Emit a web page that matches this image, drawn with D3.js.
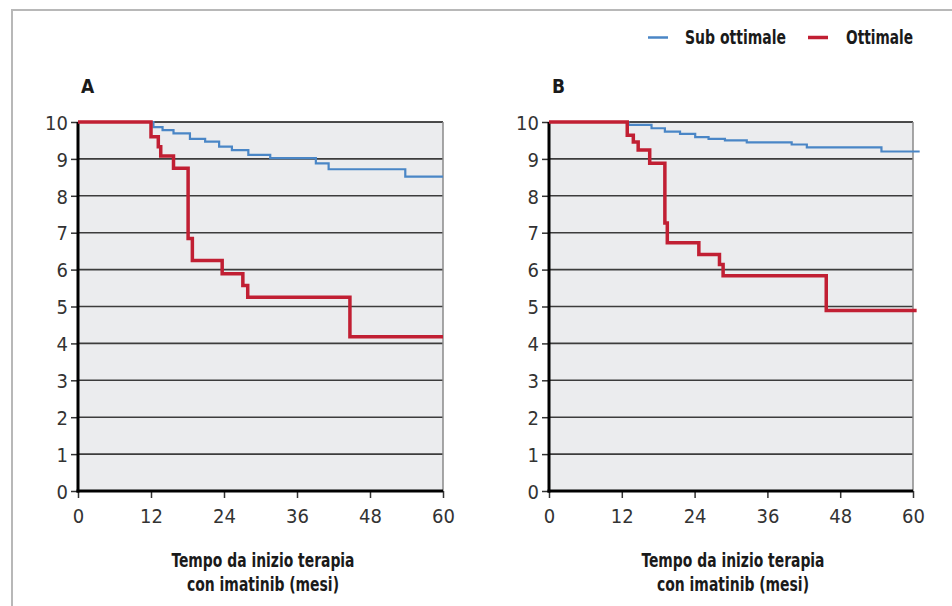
<!DOCTYPE html>
<html>
<head>
<meta charset="utf-8">
<script src="https://cdn.jsdelivr.net/npm/d3@7"></script>
<style>
  html, body { margin: 0; padding: 0; background: #ffffff; }
  svg { display: block; }
  .tick text { font-family: "Liberation Sans Narrow", "DejaVu Sans Condensed", "Arial Narrow", sans-serif; fill: #333; }
  .bold { font-family: "Liberation Sans Narrow", "DejaVu Sans Condensed", "Arial Narrow", sans-serif; font-weight: bold; fill: #1a1a1a; }
</style>
</head>
<body>
<svg id="chart" width="952" height="606"></svg>
<script>
// Time axis (months) and survival axis tick values
const monthTicks = [0, 12, 24, 36, 48, 60];
const valueTicks = [0, 1, 2, 3, 4, 5, 6, 7, 8, 9, 10];

// Panel A — step curves (time in months, value)
const aSubTime = [0, 12.4, 13.9, 15.7, 18.4, 20.9, 23.2, 25.3, 28.0, 31.6, 39.1, 41.2, 53.8, 60];
const aSubValue = [10, 9.86, 9.78, 9.69, 9.54, 9.47, 9.33, 9.24, 9.11, 9.02, 8.88, 8.72, 8.52, 8.52];
const aOttTime = [0, 12.0, 13.2, 13.6, 15.7, 18.1, 18.8, 23.7, 27.1, 27.9, 44.7, 60];
const aOttValue = [10, 9.60, 9.33, 9.08, 8.75, 6.84, 6.25, 5.89, 5.57, 5.25, 4.18, 4.18];

// Panel B — step curves
const bSubTime = [0, 13.1, 16.9, 19.1, 21.6, 24.1, 26.3, 29.0, 32.6, 40.0, 42.5, 54.8, 61.1];
const bSubValue = [10, 9.92, 9.83, 9.74, 9.68, 9.59, 9.54, 9.50, 9.45, 9.39, 9.31, 9.20, 9.20];
const bOttTime = [0, 12.9, 13.9, 14.7, 16.6, 19.1, 19.5, 24.7, 28.1, 28.7, 45.7, 60.6];
const bOttValue = [10, 9.64, 9.46, 9.24, 8.88, 7.26, 6.73, 6.41, 6.14, 5.83, 4.89, 4.89];

const seriesNames = ["Sub ottimale", "Ottimale"];
const seriesColors = ["#4a86c6", "#c11f33"];
const axisTitle = ["Tempo da inizio terapia", "con imatinib (mesi)"];

const svg = d3.select("#chart");

// Outer frame
svg.append("path")
  .attr("d", "M12,606 L12,10 L952,10")
  .attr("fill", "none")
  .attr("stroke", "#b8b8b8")
  .attr("stroke-width", 2);

// Legend
const legend = svg.append("g");
const legendItems = [
  { name: seriesNames[0], color: seriesColors[0], x0: 648, tx: 685, w: 101, sw: 2.5 },
  { name: seriesNames[1], color: seriesColors[1], x0: 808, tx: 846, w: 67, sw: 3.5 }
];
legendItems.forEach(d => {
  legend.append("line")
    .attr("x1", d.x0).attr("x2", d.x0 + 20)
    .attr("y1", 37.5).attr("y2", 37.5)
    .attr("stroke", d.color).attr("stroke-width", d.sw);
  legend.append("text")
    .attr("class", "bold")
    .attr("x", d.tx).attr("y", 44)
    .attr("font-size", 19)
    .attr("textLength", d.w).attr("lengthAdjust", "spacingAndGlyphs")
    .text(d.name);
});

function drawPanel(opts) {
  const x = d3.scaleLinear().domain([0, 60]).range([opts.left, opts.right]);
  const y = d3.scaleLinear().domain([0, 10]).range([491, 122]);
  const g = svg.append("g");

  // plot background
  g.append("rect")
    .attr("x", x(0)).attr("y", y(10))
    .attr("width", x(60) - x(0)).attr("height", y(0) - y(10))
    .attr("fill", "#ebecee");

  // horizontal gridlines
  g.selectAll("line.grid")
    .data(valueTicks.filter(v => v > 0))
    .join("line")
    .attr("class", "grid")
    .attr("x1", x(0)).attr("x2", x(60))
    .attr("y1", d => y(d)).attr("y2", d => y(d))
    .attr("stroke", d => d === 10 ? "#111" : "#3c3c3c")
    .attr("stroke-width", 1.6);

  // right border
  g.append("line")
    .attr("x1", x(60)).attr("x2", x(60))
    .attr("y1", y(10)).attr("y2", y(0))
    .attr("stroke", "#8a8a8a").attr("stroke-width", 1.5);

  // y axis
  const yAxis = g.append("g")
    .attr("transform", `translate(${x(0)},0)`)
    .call(d3.axisLeft(y).tickValues(valueTicks).tickSize(7).tickPadding(3).tickFormat(d3.format("d")));
  yAxis.select(".domain").remove();
  yAxis.selectAll(".tick line").attr("stroke", "#333").attr("stroke-width", 1.5);
  yAxis.selectAll(".tick text").attr("font-size", 20).attr("dy", "0.36em");

  // x axis
  const xAxis = g.append("g")
    .attr("transform", `translate(0,${y(0)})`)
    .call(d3.axisBottom(x).tickValues(monthTicks).tickSize(7).tickPadding(11).tickFormat(d3.format("d")));
  xAxis.select(".domain").remove();
  xAxis.selectAll(".tick line").attr("stroke", "#333").attr("stroke-width", 1.5);
  xAxis.selectAll(".tick text").attr("font-size", 20);

  // thick axis lines
  g.append("line")
    .attr("x1", x(0)).attr("x2", x(0))
    .attr("y1", y(10)).attr("y2", y(0) + 1.5)
    .attr("stroke", "#000").attr("stroke-width", 3);
  g.append("line")
    .attr("x1", x(0) - 1.5).attr("x2", x(60))
    .attr("y1", y(0)).attr("y2", y(0))
    .attr("stroke", "#000").attr("stroke-width", 3);

  // step curves
  const line = d3.line()
    .x(d => x(d[0])).y(d => y(d[1]))
    .curve(d3.curveStepAfter);
  const sub = d3.zip(opts.subTime, opts.subValue);
  const ott = d3.zip(opts.ottTime, opts.ottValue);
  g.append("path")
    .datum(sub)
    .attr("d", line)
    .attr("fill", "none")
    .attr("stroke", seriesColors[0])
    .attr("stroke-width", 2.2);
  g.append("path")
    .datum(ott)
    .attr("d", line)
    .attr("fill", "none")
    .attr("stroke", seriesColors[1])
    .attr("stroke-width", 3.5);

  // panel letter
  g.append("text")
    .attr("class", "bold")
    .attr("x", opts.left + 3).attr("y", 93)
    .attr("font-size", 19)
    .text(opts.label);

  // axis title
  const cx = opts.titleX;
  g.append("text")
    .attr("class", "bold")
    .attr("x", cx).attr("y", 567)
    .attr("text-anchor", "middle")
    .attr("font-size", 19)
    .attr("textLength", 183).attr("lengthAdjust", "spacingAndGlyphs")
    .text(axisTitle[0]);
  g.append("text")
    .attr("class", "bold")
    .attr("x", cx).attr("y", 591)
    .attr("text-anchor", "middle")
    .attr("font-size", 19)
    .attr("textLength", 152).attr("lengthAdjust", "spacingAndGlyphs")
    .text(axisTitle[1]);
}

drawPanel({ left: 78, right: 443, label: "A", titleX: 263,
  subTime: aSubTime, subValue: aSubValue, ottTime: aOttTime, ottValue: aOttValue });
drawPanel({ left: 549, right: 913, label: "B", titleX: 733,
  subTime: bSubTime, subValue: bSubValue, ottTime: bOttTime, ottValue: bOttValue });
</script>
</body>
</html>
